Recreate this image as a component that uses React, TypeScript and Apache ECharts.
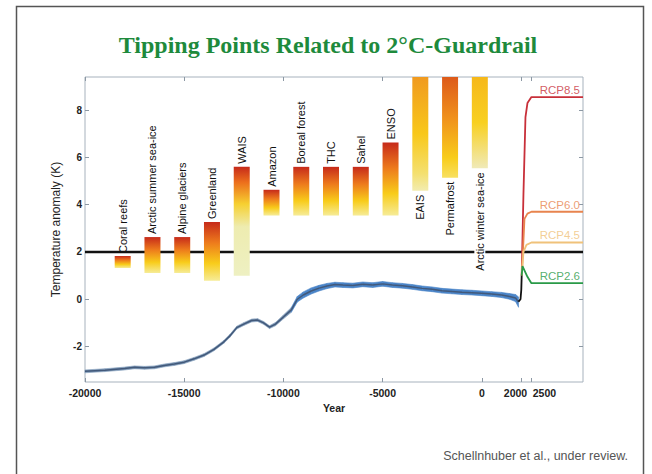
import React, { useEffect, useRef } from 'react';
import * as echarts from 'echarts';

// ---------- data ----------
const xMin = -20000;
const xMax = 5100;
const yMin = -3.5;
const yMax = 9.4;
const xTicks = [-20000, -15000, -10000, -5000, 0, 2000, 2500];
const yTicks = [-2, 0, 2, 4, 6, 8];
const guardrail = 2;

const tempYears = [-20000, -19000, -18000, -17500, -17000, -16500, -16000, -15500, -15000, -14500, -14000, -13500, -13000, -12700, -12350, -12000, -11600, -11300, -11000, -10700, -10400, -10000, -9600, -9300, -9000, -8600, -8200, -7800, -7400, -7000, -6500, -6000, -5500, -5000, -4500, -4000, -3500, -3000, -2500, -2000, -1500, -1000, -500, 0, 500, 1000, 1400, 1700, 1850];
const tempValues = [-3.05, -3.0, -2.93, -2.88, -2.9, -2.88, -2.8, -2.74, -2.66, -2.52, -2.36, -2.12, -1.8, -1.55, -1.2, -1.05, -0.9, -0.88, -1.0, -1.18, -1.05, -0.75, -0.45, 0.0, 0.18, 0.35, 0.47, 0.56, 0.62, 0.6, 0.58, 0.63, 0.6, 0.65, 0.6, 0.57, 0.52, 0.46, 0.42, 0.36, 0.33, 0.3, 0.28, 0.25, 0.22, 0.18, 0.12, 0.05, -0.12];
const tempSpread = [0.06, 0.06, 0.06, 0.06, 0.06, 0.06, 0.06, 0.06, 0.06, 0.06, 0.06, 0.06, 0.06, 0.06, 0.06, 0.06, 0.06, 0.06, 0.06, 0.06, 0.07, 0.08, 0.1, 0.12, 0.13, 0.13, 0.12, 0.11, 0.1, 0.1, 0.1, 0.1, 0.1, 0.1, 0.1, 0.1, 0.1, 0.1, 0.1, 0.1, 0.1, 0.1, 0.1, 0.1, 0.1, 0.11, 0.12, 0.15, 0.22];
const holoceneStart = -9700;

const obsYears = [1850, 1950, 1990, 2010];
const obsValues = [-0.1, 0.0, 0.4, 1.0];

const rcpNames = ['RCP8.5', 'RCP6.0', 'RCP4.5', 'RCP2.6'];
const rcp85Years = [2010, 2100, 2200, 2300, 2500, 5100];
const rcp85Values = [1.0, 4.5, 7.7, 8.3, 8.55, 8.55];
const rcp60Years = [2010, 2100, 2150, 2300, 2500, 5100];
const rcp60Values = [1.0, 2.5, 3.4, 3.62, 3.7, 3.7];
const rcp45Years = [2010, 2100, 2250, 2500, 5100];
const rcp45Values = [1.0, 2.0, 2.3, 2.4, 2.4];
const rcp26Years = [2010, 2050, 2300, 2500, 5100];
const rcp26Values = [1.0, 1.4, 0.95, 0.68, 0.68];

const tippingNames = ['Coral reefs', 'Arctic summer sea-ice', 'Alpine glaciers', 'Greenland', 'WAIS', 'Amazon', 'Boreal forest', 'THC', 'Sahel', 'ENSO', 'EAIS', 'Permafrost', 'Arctic winter sea-ice'];
const tippingYears = [-18100, -16600, -15100, -13600, -12100, -10600, -9100, -7600, -6100, -4600, -3100, -1600, -100];
const tippingLow = [1.32, 1.11, 1.11, 0.78, 0.99, 3.54, 3.54, 3.54, 3.54, 3.54, 4.59, 5.14, 5.54];
const tippingHigh = [1.83, 2.63, 2.63, 3.27, 5.6, 4.63, 5.6, 5.6, 5.6, 6.63, 10, 10, 10];

// ---------- styles ----------
const rcpColors: Record<string, string> = {
  'RCP8.5': '#c8303a',
  'RCP6.0': '#e8844e',
  'RCP4.5': '#f0c27a',
  'RCP2.6': '#2a9a48',
};
const defaultStops = [
  { offset: 0, color: '#c62a1a' },
  { offset: 0.35, color: '#ed7a1c' },
  { offset: 0.7, color: '#f8cc1a' },
  { offset: 1, color: '#f6ec98' },
];
const barStops: Record<string, { offset: number; color: string }[]> = {
  WAIS: [
    { offset: 0, color: '#c62a1a' },
    { offset: 0.14, color: '#ec6e1c' },
    { offset: 0.34, color: '#f6d030' },
    { offset: 0.55, color: '#eeecb0' },
    { offset: 1, color: '#eef0c2' },
  ],
  EAIS: [
    { offset: 0, color: '#f09a20' },
    { offset: 0.5, color: '#f8c81a' },
    { offset: 0.85, color: '#f4e070' },
    { offset: 1, color: '#f2ecb0' },
  ],
  Permafrost: [
    { offset: 0, color: '#dd5a1a' },
    { offset: 0.4, color: '#f0901c' },
    { offset: 0.8, color: '#f8cc1a' },
    { offset: 1, color: '#f8e060' },
  ],
  'Arctic winter sea-ice': [
    { offset: 0, color: '#f6b81a' },
    { offset: 0.5, color: '#f8d020' },
    { offset: 1, color: '#f0eab8' },
  ],
};

const FONT = 'Liberation Sans, Arial, Helvetica, sans-serif';
const TICK_COLOR = '#8c98a4';

function pairs(xs: number[], ys: number[]) {
  return xs.map((x, i) => [x, ys[i]]);
}

export default function App() {
  const ref = useRef<HTMLDivElement>(null);

  useEffect(() => {
    if (!ref.current) return;
    const chart = echarts.init(ref.current, null, { renderer: 'svg' });

    const rcpX = (n: string) => (n === 'RCP8.5' ? rcp85Years : n === 'RCP6.0' ? rcp60Years : n === 'RCP4.5' ? rcp45Years : rcp26Years);
    const rcpY = (n: string) => (n === 'RCP8.5' ? rcp85Values : n === 'RCP6.0' ? rcp60Values : n === 'RCP4.5' ? rcp45Values : rcp26Values);

    const rcpSeries = rcpNames.map((name) => ({
      type: 'line',
      name,
      data: pairs(rcpX(name), rcpY(name)),
      symbol: 'none',
      z: 6,
      lineStyle: { color: rcpColors[name], width: 1.8 },
      itemStyle: { color: rcpColors[name] },
    }));

    const rcpLabelSeries = rcpNames.map((name) => {
      const xs = rcpX(name);
      const ys = rcpY(name);
      return {
        type: 'scatter',
        name: name + ' label',
        data: [[xs[xs.length - 1], ys[ys.length - 1]]],
        symbolSize: 0.01,
        z: 8,
        itemStyle: { color: rcpColors[name] },
        label: {
          show: true,
          formatter: name,
          position: 'top',
          align: 'right',
          distance: 1,
          offset: [-3, 0],
          color: rcpColors[name],
          fontSize: 11.5,
          fontFamily: FONT,
        },
      };
    });

    const bandSegments = tempYears.slice(0, -1).map((y, i) => [
      y,
      tempValues[i] - tempSpread[i],
      tempValues[i] + tempSpread[i],
      tempYears[i + 1],
      tempValues[i + 1] - tempSpread[i + 1],
      tempValues[i + 1] + tempSpread[i + 1],
    ]);

    const hiddenAxisBase = {
      type: 'value',
      axisLine: { show: false, onZero: false },
      splitLine: { show: false },
      axisLabel: { show: false },
    };

    const option: any = {
      animation: false,
      backgroundColor: '#ffffff',
      grid: {
        left: 85,
        top: 77,
        right: 69,
        bottom: 92,
        show: true,
        borderColor: '#a7b2bd',
        borderWidth: 1,
        backgroundColor: '#ffffff',
      },
      xAxis: [
        {
          type: 'value',
          min: xMin,
          max: xMax,
          position: 'bottom',
          axisLine: { show: false, onZero: false },
          splitLine: { show: false },
          axisTick: { inside: true, length: 4, customValues: xTicks, lineStyle: { color: TICK_COLOR } },
          axisLabel: {
            customValues: xTicks,
            margin: 5,
            color: '#222',
            fontSize: 10.5,
            fontWeight: 'bold',
            fontFamily: FONT,
            formatter: (v: number) => (v === 2000 ? '{a|2000}' : v === 2500 ? '{b|2500}' : String(v)),
            rich: {
              a: { padding: [0, 12, 0, 0], fontSize: 10.5, fontWeight: 'bold', color: '#222', fontFamily: FONT },
              b: { padding: [0, 0, 0, 26], fontSize: 10.5, fontWeight: 'bold', color: '#222', fontFamily: FONT },
            },
          },
          name: 'Year',
          nameLocation: 'middle',
          nameGap: 15,
          nameTextStyle: { color: '#222', fontSize: 10.5, fontWeight: 'bold', fontFamily: FONT },
        },
        {
          ...hiddenAxisBase,
          min: xMin,
          max: xMax,
          position: 'top',
          axisTick: { inside: true, length: 4, customValues: xTicks, lineStyle: { color: TICK_COLOR } },
        },
      ],
      yAxis: [
        {
          type: 'value',
          min: yMin,
          max: yMax,
          position: 'left',
          axisLine: { show: false, onZero: false },
          splitLine: { show: false },
          axisTick: { inside: true, length: 4, customValues: yTicks, lineStyle: { color: TICK_COLOR } },
          axisLabel: {
            customValues: yTicks,
            margin: 3,
            color: '#222',
            fontSize: 10,
            fontWeight: 'bold',
            fontFamily: FONT,
            formatter: (v: number) => String(v),
          },
          name: 'Temperature anomaly (K)',
          nameLocation: 'middle',
          nameGap: 16,
          nameTextStyle: { color: '#222', fontSize: 12, fontFamily: FONT },
        },
        {
          ...hiddenAxisBase,
          min: yMin,
          max: yMax,
          position: 'right',
          axisTick: { inside: true, length: 4, customValues: yTicks, lineStyle: { color: TICK_COLOR } },
        },
      ],
      graphic: [
        {
          type: 'rect',
          shape: { x: 16.5, y: 6.5, width: 627, height: 490 },
          style: { fill: 'none', stroke: '#555', lineWidth: 1.5 },
          silent: true,
          z: -10,
        },
        {
          type: 'text',
          x: 328,
          y: 45,
          style: {
            text: 'Tipping Points Related to 2°C-Guardrail',
            align: 'center',
            verticalAlign: 'middle',
            fill: '#1e8a3c',
            fontSize: 24,
            fontWeight: 'bold',
            fontFamily: 'Liberation Serif, Times New Roman, serif',
          },
        },
        {
          type: 'text',
          x: 628,
          y: 456,
          style: {
            text: 'Schellnhuber et al., under review.',
            align: 'right',
            verticalAlign: 'middle',
            fill: '#555',
            fontSize: 12.5,
            fontFamily: FONT,
          },
        },
      ],
      series: [
        {
          type: 'line',
          name: 'guardrail',
          data: [[xMin, guardrail], [xMax, guardrail]],
          symbol: 'none',
          z: 1,
          lineStyle: { color: '#111', width: 2.5 },
        },
        {
          type: 'custom',
          name: 'tipping',
          z: 3,
          data: tippingYears.map((x, i) => [x, tippingLow[i], tippingHigh[i], i]),
          encode: { x: 0, y: [1, 2] },
          renderItem: (params: any, api: any) => {
            const i = api.value(3);
            const x = api.value(0);
            const lo = api.coord([x, api.value(1)]);
            const hi = api.coord([x, api.value(2)]);
            const cs = params.coordSys;
            const top = Math.max(hi[1], cs.y);
            const w = 16;
            const name = tippingNames[i];
            const stops = barStops[name] || defaultStops;
            const below = hi[1] < cs.y;
            return {
              type: 'group',
              children: [
                {
                  type: 'rect',
                  shape: { x: lo[0] - w / 2, y: top, width: w, height: lo[1] - top },
                  style: { fill: new echarts.graphic.LinearGradient(0, 0, 0, 1, stops) },
                },
                {
                  type: 'text',
                  x: lo[0],
                  y: below ? lo[1] + 3 : top - 3,
                  rotation: Math.PI / 2,
                  style: {
                    text: name,
                    fontSize: 11,
                    fontFamily: FONT,
                    fill: '#111',
                    align: below ? 'right' : 'left',
                    verticalAlign: 'middle',
                    backgroundColor: below ? '#ffffff' : 'transparent',
                    padding: below ? [0, 1, 0, 1] : 0,
                  },
                },
              ],
            };
          },
        },
        {
          type: 'custom',
          name: 'temperature band',
          z: 4,
          data: bandSegments,
          encode: { x: [0, 3], y: [1, 2, 4, 5] },
          renderItem: (params: any, api: any) => {
            const a = api.coord([api.value(0), api.value(1)]);
            const b = api.coord([api.value(0), api.value(2)]);
            const c = api.coord([api.value(3), api.value(5)]);
            const d = api.coord([api.value(3), api.value(4)]);
            const col = api.value(0) < holoceneStart ? '#7f9ab8' : '#4a84c8';
            return {
              type: 'polygon',
              shape: { points: [a, b, c, d] },
              style: { fill: col, stroke: col, lineWidth: 0.6 },
            };
          },
        },
        {
          type: 'line',
          name: 'temperature',
          data: pairs(tempYears, tempValues),
          symbol: 'none',
          z: 5,
          lineStyle: { color: '#42597a', width: 1.5 },
        },
        {
          type: 'line',
          name: 'observed',
          data: pairs(obsYears, obsValues),
          symbol: 'none',
          z: 7,
          lineStyle: { color: '#111', width: 1.8 },
        },
        ...rcpSeries,
        ...rcpLabelSeries,
      ],
    };

    chart.setOption(option);
    return () => chart.dispose();
  }, []);

  return (
    <div
      ref={ref}
      style={{ position: 'fixed', left: 0, top: 0, width: 652, height: 474, background: '#fff' }}
    />
  );
}
